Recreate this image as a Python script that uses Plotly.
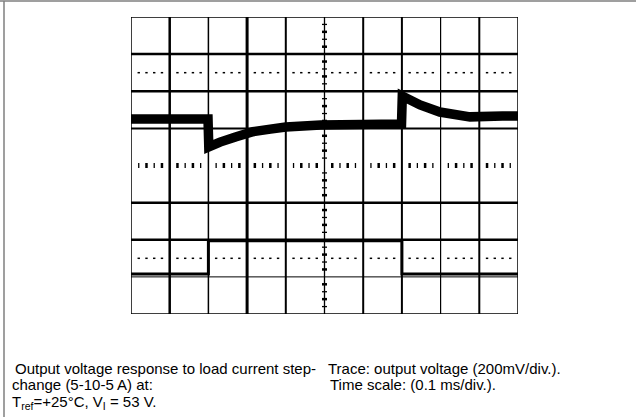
import plotly.graph_objects as go

# ---- data (screen units: mV relative to centre line) ----
time_ms = [0.000, 0.199, 0.201, 0.210, 0.230, 0.270, 0.315, 0.360, 0.400, 0.490,
           0.600, 0.699, 0.701, 0.720, 0.747, 0.798, 0.876, 0.960, 1.000]
vout_mV = [250, 250, 100, 110, 126, 154, 182, 196, 207, 218,
           223, 224, 374, 353, 326, 288, 262, 266, 266]

step_time_ms = [0.0, 0.2, 0.2, 0.7, 0.7, 1.0]
load_A = [5, 5, 10, 10, 5, 5]

caption_left = ["Output voltage response to load current step-",
                "change (5-10-5 A) at:",
                "T<sub>ref</sub>=+25°C, V<sub>I</sub> = 53 V."]
caption_right = ["Trace: output voltage (200mV/div.).",
                 "Time scale: (0.1 ms/div.)."]

# ---- geometry ----
W, H = 636, 417
L, R, T, B = 131, 118, 17, 103
PW, PH = W - L - R, H - T - B
X0, X1 = 0.0, 1.0
Y0, Y1 = -800, 800
XDIV, YDIV = 0.1, 200
pxx = (X1 - X0) / PW
pxy = (Y1 - Y0) / PH


def xp(px):
    return (px - L) / PW


def yp(py):
    return (H - B - py) / PH


fig = go.Figure()
fig.add_trace(go.Scatter(x=time_ms, y=vout_mV, mode="lines",
                         line=dict(color="black", width=9.5), hoverinfo="skip"))
fig.add_trace(go.Scatter(x=step_time_ms, y=load_A, yaxis="y2", mode="lines",
                         line=dict(color="black", width=3), hoverinfo="skip"))

shapes = []


def seg(x0, y0, x1, y1, w, color="black", xref="x", yref="y"):
    shapes.append(dict(type="line", x0=x0, y0=y0, x1=x1, y1=y1, xref=xref, yref=yref,
                       line=dict(color=color, width=w), layer="above"))


# vertical grid lines
vwidths = {1: 2.5, 2: 1.5, 3: 3, 4: 2, 6: 2, 7: 2, 8: 1.2, 9: 2}
for i, w in vwidths.items():
    seg(i * XDIV, Y0, i * XDIV, Y1, w)
# horizontal grid lines
hwidths = {3: 2.5, 2: 2.5, 1: 2, -1: 2.5, -2: 2.5, -3: 1}
for j, w in hwidths.items():
    seg(X0, j * YDIV, X1, j * YDIV, w)
# centre vertical line
seg(0.5, Y0, 0.5, Y1, 1.3)
# tick marks
for k in range(1, 50):
    if k % 5 == 0:
        continue
    x = k * XDIV / 5
    wt = 2.5 if k % 2 == 0 else 1.3
    seg(x, -2.5 * pxy, x, 2.5 * pxy, wt)
    for yy in (2.5 * YDIV, -2.5 * YDIV):
        seg(x - 1.2 * pxx, yy, x + 1.2 * pxx, yy, 1.5)
for k in range(1, 40):
    if k % 5 == 0:
        continue
    y = Y0 + k * YDIV / 5
    wt = 2.5 if k % 2 == 0 else 1.3
    seg(0.5 - 2.5 * pxx, y, 0.5 + 2.5 * pxx, y, wt)
# plot frame
shapes.append(dict(type="rect", x0=X0, y0=Y0, x1=X1, y1=Y1, xref="x", yref="y",
                   line=dict(color="black", width=1.5), layer="above"))
# page frame (top and left gray rules)
seg(xp(0), yp(1), xp(W), yp(1), 1.5, color="#7f7f7f", xref="paper", yref="paper")
seg(xp(4), yp(1), xp(4), yp(H), 1.5, color="#7f7f7f", xref="paper", yref="paper")

font = dict(family="Liberation Sans, Arial, Helvetica, sans-serif", size=15, color="black")
ann = []
left_pos = [(13, 368, "middle"), (10, 384.5, "middle"), (10, 391.5, "top")]
for txt, (x, y, ya) in zip(caption_left, left_pos):
    ann.append(dict(text=txt, x=xp(x), y=yp(y), xref="paper", yref="paper",
                    xanchor="left", yanchor=ya, showarrow=False, font=font))
right_pos = [(326, 368), (328, 384.5)]
for txt, (x, y) in zip(caption_right, right_pos):
    ann.append(dict(text=txt, x=xp(x), y=yp(y), xref="paper", yref="paper",
                    xanchor="left", yanchor="middle", showarrow=False, font=font))

# current axis: 5 A at -2.92 div, 10 A at -2.03 div
a_per_div = 5 / 0.89
y2_lo = 5 - (4 - 2.92) * a_per_div
y2_hi = 5 + (4 + 2.92) * a_per_div

fig.update_layout(
    width=W, height=H, autosize=False,
    margin=dict(l=L, r=R, t=T, b=B, pad=0),
    paper_bgcolor="white", plot_bgcolor="white",
    showlegend=False,
    xaxis=dict(range=[X0, X1], visible=False, fixedrange=True),
    yaxis=dict(range=[Y0, Y1], visible=False, fixedrange=True),
    yaxis2=dict(range=[y2_lo, y2_hi], overlaying="y", visible=False, fixedrange=True),
    shapes=shapes, annotations=ann,
)

fig.write_html("out.html", config={"displayModeBar": False},
               post_script="document.body.style.margin='0';document.body.style.padding='0';")
